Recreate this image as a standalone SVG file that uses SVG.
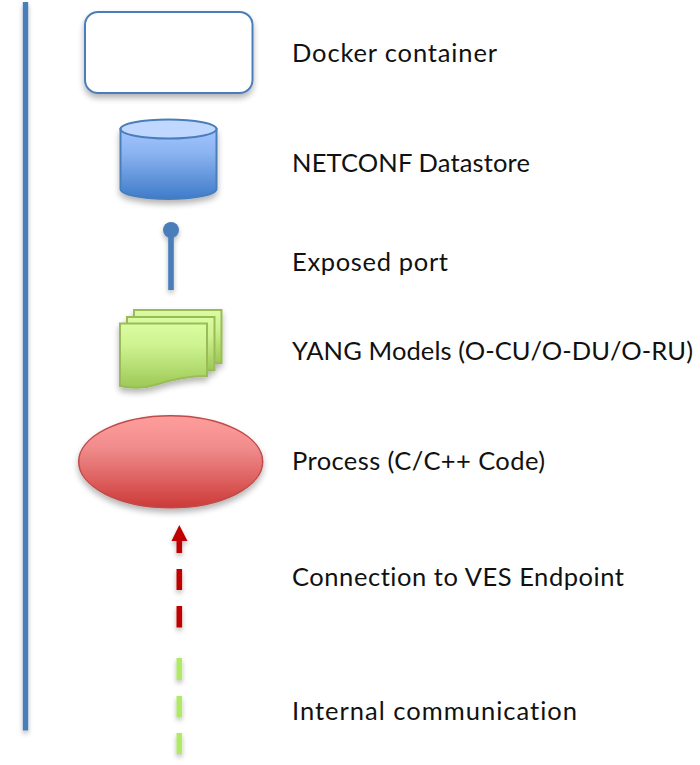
<svg xmlns="http://www.w3.org/2000/svg" width="700" height="765" viewBox="0 0 700 765">
<style>
text{font-family:"Lato","Carlito","Liberation Sans",sans-serif;font-size:25.5px;fill:#111;font-variant-ligatures:none}
.blue{fill:#4a7ebb}
.bs{stroke:#4a7ebb;stroke-width:2}
.gs{stroke:#9bbb59;stroke-width:2}
</style>
<defs>
<filter id="sh" x="-30%" y="-30%" width="160%" height="170%"><feGaussianBlur in="SourceAlpha" stdDeviation="3"/><feOffset dy="4"/><feComponentTransfer><feFuncA type="linear" slope="0.3"/></feComponentTransfer><feMerge><feMergeNode/><feMergeNode in="SourceGraphic"/></feMerge></filter>
<filter id="shl" filterUnits="userSpaceOnUse" x="0" y="0" width="700" height="765"><feGaussianBlur in="SourceAlpha" stdDeviation="2.500"/><feOffset dy="3"/><feComponentTransfer><feFuncA type="linear" slope="0.28"/></feComponentTransfer><feMerge><feMergeNode/><feMergeNode in="SourceGraphic"/></feMerge></filter>
<linearGradient id="gb" x1="0" y1="0" x2="0" y2="1"><stop offset="0" stop-color="#a3c4ff"/><stop offset="0.35" stop-color="#8ab3f0"/><stop offset="1" stop-color="#3f7bc9"/></linearGradient>
<linearGradient id="gg" x1="0" y1="0" x2="0" y2="1"><stop offset="0" stop-color="#dafda0"/><stop offset="0.35" stop-color="#cdf290"/><stop offset="1" stop-color="#9cc955"/></linearGradient>
<linearGradient id="gr" x1="0" y1="0" x2="0" y2="1"><stop offset="0" stop-color="#ff9d9d"/><stop offset="0.35" stop-color="#f08c8c"/><stop offset="1" stop-color="#cd3a38"/></linearGradient>
</defs>
<rect id="sidebar" class="blue" x="22.800" y="2" width="5.400" height="728.500" filter="url(#shl)"/>
<g id="docker-container">
<rect x="85" y="12" width="167.500" height="81" rx="13" fill="#fff" class="bs" filter="url(#sh)"/>
</g>
<g id="netconf-datastore">
<path d="M120.500 129V189C120.500 194.500 142 199 168.500 199S216.500 194.500 216.500 189V129Z" fill="url(#gb)" class="bs" filter="url(#sh)"/>
<ellipse cx="168.500" cy="129" rx="48" ry="9.500" fill="#c0d8ff" class="bs"/>
</g>
<g id="exposed-port" filter="url(#shl)">
<rect class="blue" x="168.200" y="232" width="5.600" height="58"/>
<circle class="blue" cx="171" cy="230" r="8"/>
</g>
<g id="yang-models" filter="url(#sh)">
<rect x="134" y="310" width="87.500" height="53" fill="url(#gg)" class="gs"/>
<rect x="127" y="317" width="87.500" height="53" fill="url(#gg)" class="gs"/>
<path d="M120 323.500H207V376C185 376 170 380 155 385C142 389 130 388 120 386Z" fill="url(#gg)" class="gs"/>
</g>
<g id="process">
<ellipse cx="170.700" cy="461.700" rx="92" ry="46" fill="url(#gr)" stroke="#be4b48" stroke-width="1.500" filter="url(#sh)"/>
</g>
<g id="connectors">
<g id="ves-connection" fill="#c00000" filter="url(#shl)">
<path d="M179.300 525L187.500 541H182.100V553H176.500V541H171.500Z"/>
<rect x="176.500" y="569" width="5.600" height="21"/>
<rect x="176.500" y="606" width="5.600" height="21.500"/>
</g>
<g id="internal-communication" fill="#aeea66" filter="url(#shl)">
<rect x="176.500" y="658" width="5.600" height="22"/>
<rect x="176.500" y="696" width="5.600" height="21"/>
<rect x="176.500" y="733" width="5.600" height="21"/>
</g>
</g>
<g id="labels">
<text x="292" y="61.500" textLength="205">Docker container</text>
<text x="292" y="171.500" textLength="238">NETCONF Datastore</text>
<text x="292" y="270.500" textLength="156">Exposed port</text>
<text x="292" y="360" textLength="401">YANG Models (O-CU/O-DU/O-RU)</text>
<text x="292" y="469.500" textLength="253">Process (C/C++ Code)</text>
<text x="292" y="586" textLength="332">Connection to VES Endpoint</text>
<text x="292" y="720" textLength="285">Internal communication</text>
</g>
</svg>
